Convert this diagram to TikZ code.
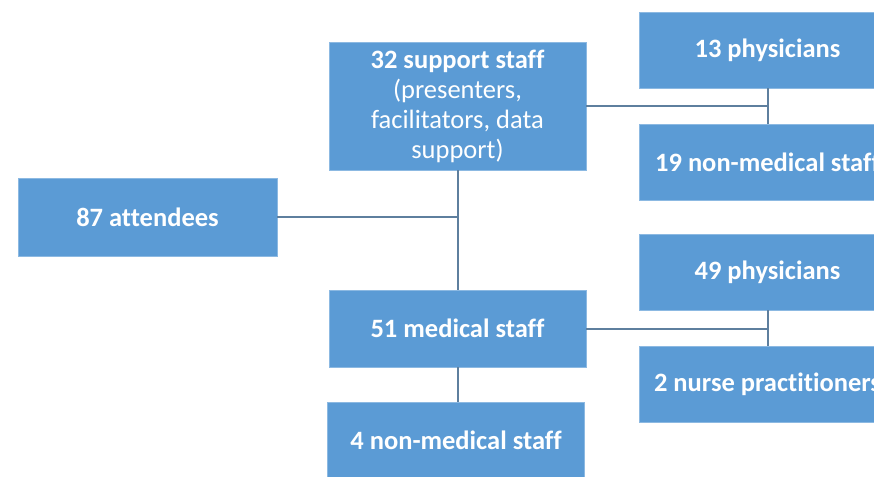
\documentclass[tikz,border=0pt]{standalone}
\usepackage{fontspec}
\setmainfont{Carlito}[Ligatures=NoCommon]
\definecolor{boxblue}{HTML}{5B9BD5}
\definecolor{linecol}{HTML}{5E7F9E}
\begin{document}
\begin{tikzpicture}[x=1pt,y=-1pt,
  bx/.style={rectangle, fill=boxblue, draw=boxblue!70!white, line width=0.6pt, text=white,
    font=\fontsize{26.5}{30}\selectfont\bfseries, align=center, inner sep=0pt,
    minimum width=257pt, minimum height=77pt},
  conn/.style={draw=linecol, line width=2pt}]
\useasboundingbox (0,0) rectangle (874,476);
\clip (0,0) rectangle (874,476);
\fill[white] (0,0) rectangle (874,476);
\node[bx, minimum width=259pt, minimum height=78pt] (att) at (147.5,217) {87 attendees};
\node[bx, minimum height=128pt] (sup) at (457.5,106)
  {32 support staff\\\mdseries(presenters,\\\mdseries facilitators, data\\\mdseries support)};
\node[bx] (med) at (457.5,328.5) {51 medical staff};
\node[bx] (nm4) at (456,440.5) {4 non-medical staff};
\node[bx, minimum height=76pt] (p13) at (767.5,50) {13 physicians};
\node[bx, minimum height=76pt] (n19) at (767.5,162) {19 non-medical staff};
\node[bx, minimum height=76pt] (p49) at (767.5,272) {49 physicians};
\node[bx, minimum height=76pt] (np2) at (767.5,384) {2 nurse practitioners};
\draw[conn] (sup.south) -- (med.north);
\draw[conn] (att.east) -- (att.east -| sup.south);
\draw[conn] (med.south) -- (med.south |- nm4.north);
\draw[conn] (sup.east) -- (sup.east -| p13.south);
\draw[conn] (p13.south) -- (n19.north);
\draw[conn] (med.east) -- (med.east -| p49.south);
\draw[conn] (p49.south) -- (np2.north);
\end{tikzpicture}
\end{document}
